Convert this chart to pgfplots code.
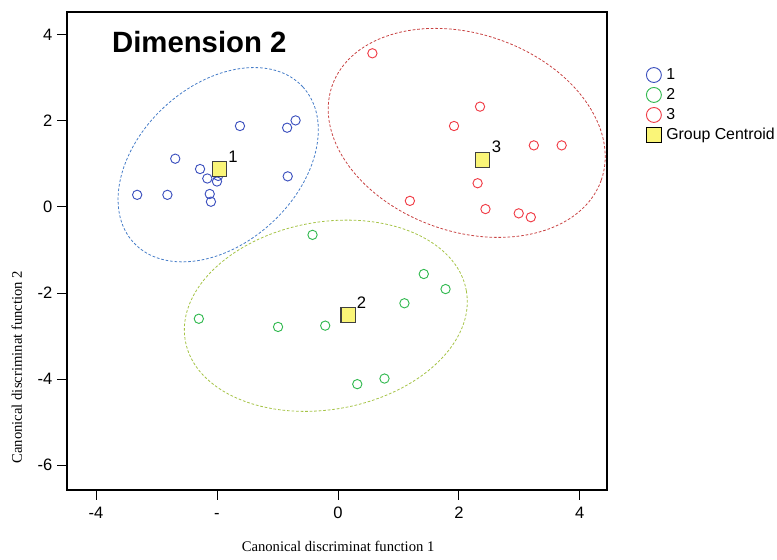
\documentclass[border=0pt]{standalone}
\usepackage{fontspec}
\setmainfont{Liberation Sans}
\newfontfamily\seriffont{Liberation Serif}
\usepackage{pgfplots}
\pgfplotsset{compat=1.18}
\usetikzlibrary{shapes.geometric}
\definecolor{gblue}{RGB}{60,80,190}
\definecolor{ggreen}{RGB}{50,185,80}
\definecolor{gred}{RGB}{240,60,70}
\definecolor{eblue}{RGB}{70,125,200}
\definecolor{egreen}{RGB}{165,195,70}
\definecolor{ered}{RGB}{200,65,65}
\definecolor{cyellow}{RGB}{250,245,120}
\begin{document}
\begin{tikzpicture}
\begin{axis}[
  scale only axis,
  width=405pt, height=358.5pt,
  xmin=-4.48, xmax=4.45, ymin=-6.58, ymax=4.53,
  axis line style={black, line width=0.8pt},
  tick align=outside, major tick length=7.5pt,
  tick style={black, line width=0.6pt},
  xtick pos=bottom, ytick pos=left,
  xtick={-4,-2,0,2,4}, xticklabels={-4,-,0,2,4},
  ytick={-6,-4,-2,0,2,4}, yticklabels={-6,-4,-2,0,2,4},
  ticklabel style={font=\fontsize{12.4}{14}\selectfont},
  xticklabel style={yshift=-1pt, text height=9pt, text depth=0pt},
  xlabel={Canonical discriminat function 1},
  ylabel={Canonical discriminat function 2},
  xlabel style={font=\seriffont\fontsize{11}{13}\selectfont, at={(axis description cs:0.502,-0.119)}, anchor=center},
  ylabel style={font=\seriffont\fontsize{11}{13}\selectfont, at={(axis description cs:-0.093,0.257)}, anchor=center},
  legend style={draw=none, fill=none, at={(axis description cs:1.072,0.885)}, anchor=north west,
    font=\fontsize{11.9}{13}\selectfont, row sep=3.2pt, column sep=2.5pt, inner sep=0pt,
    nodes={inner sep=1pt}},
  legend cell align=left,
  legend image code/.code={\path[draw=none, fill=none] (-5.8pt,-5.8pt) rectangle (5.8pt,5.8pt); \draw[#1] plot coordinates {(0pt,0pt)};},
  clip=false,
]
% ellipses
\node[draw=eblue, line width=0.6pt, dash pattern=on 2pt off 1.4pt, ellipse, inner sep=0pt, outer sep=0pt,
  minimum width=172.5pt, minimum height=118.5pt, rotate=42.6] at (axis cs:-1.98,0.98) {};
\node[draw=ered, line width=0.6pt, dash pattern=on 2pt off 1.4pt, ellipse, inner sep=0pt, outer sep=0pt,
  minimum width=213.9pt, minimum height=148.2pt, rotate=-19.3] at (axis cs:2.13,1.72) {};
\node[draw=egreen, line width=0.6pt, dash pattern=on 2pt off 1.4pt, ellipse, inner sep=0pt, outer sep=0pt,
  minimum width=214.1pt, minimum height=140.6pt, rotate=10.1] at (axis cs:-0.20,-2.53) {};
% group 1
\addplot[only marks, mark=o, mark size=3.5pt, gblue, line width=0.7pt, forget plot] coordinates {
(-3.32,0.28) (-2.82,0.28) (-2.69,1.12) (-2.28,0.88) (-2.16,0.66) (-2.12,0.30) (-2.10,0.12)
(-2.00,0.59) (-1.98,0.72) (-1.62,1.88) (-0.84,1.84) (-0.70,2.01) (-0.83,0.71)};
% group 2
\addplot[only marks, mark=o, mark size=3.5pt, ggreen, line width=0.7pt, forget plot] coordinates {
(-0.42,-0.65) (1.42,-1.56) (1.78,-1.91) (1.10,-2.24) (-2.30,-2.60) (-0.99,-2.79) (-0.21,-2.76)
(0.32,-4.12) (0.77,-3.99)};
% group 3
\addplot[only marks, mark=o, mark size=3.5pt, gred, line width=0.7pt, forget plot] coordinates {
(0.57,3.57) (2.35,2.33) (1.92,1.88) (3.24,1.43) (3.70,1.43) (2.31,0.55) (1.19,0.14)
(2.44,-0.05) (2.99,-0.15) (3.19,-0.24)};
% centroids
\addplot[only marks, mark=square*, mark size=5.4pt, mark options={fill=cyellow, draw=black!75, line width=0.8pt}, forget plot] coordinates {
(-1.96,0.88) (0.17,-2.51) (2.39,1.09)};
\node[font=\fontsize{12.5}{14}\selectfont, inner sep=0pt] at (axis cs:-1.736,1.163) {1};
\node[font=\fontsize{12.5}{14}\selectfont, inner sep=0pt] at (axis cs:0.392,-2.226) {2};
\node[font=\fontsize{12.5}{14}\selectfont, inner sep=0pt] at (axis cs:2.623,1.388) {3};
\node[anchor=west, font=\bfseries\fontsize{22}{26}\selectfont, inner sep=0pt] at (rel axis cs:0.083,0.937) {Dimension 2};
% legend
\addlegendimage{only marks, mark=o, mark size=5.6pt, gblue, line width=0.7pt}
\addlegendentry{1}
\addlegendimage{only marks, mark=o, mark size=5.6pt, ggreen, line width=0.7pt}
\addlegendentry{2}
\addlegendimage{only marks, mark=o, mark size=5.6pt, gred, line width=0.7pt}
\addlegendentry{3}
\addlegendimage{only marks, mark=square*, mark size=5.6pt, mark options={fill=cyellow, draw=black, line width=0.8pt}}
\addlegendentry{Group Centroid}
\coordinate (bbl) at (rel axis cs:-0.1241,-0.1444);
\coordinate (btr) at (rel axis cs:1.3148,1.0251);
\end{axis}
\pgfresetboundingbox
\path[use as bounding box] (bbl) rectangle (btr);
\end{tikzpicture}
\end{document}
